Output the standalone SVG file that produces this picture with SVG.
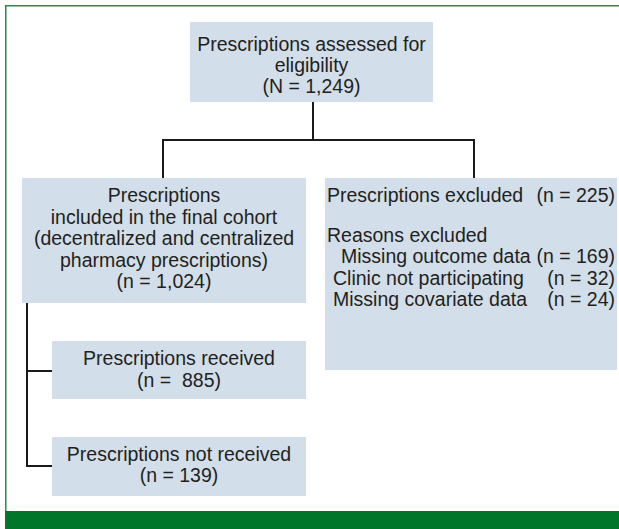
<svg xmlns="http://www.w3.org/2000/svg" width="619" height="529" viewBox="0 0 619 529">
<style>
.box{fill:#d2dee9;}
.t{font-family:"Liberation Sans",Arial,sans-serif;font-size:19.5px;fill:#231f20;}
.c{text-anchor:middle;}
.ln{stroke:#1a1a1a;stroke-width:2;fill:none;}
</style>
<rect x="0" y="0" width="619" height="529" fill="#ffffff"/>
<rect x="5.75" y="5.75" width="620" height="510" fill="none" stroke="#2f8a45" stroke-width="1.5"/>
<rect x="5" y="511" width="614" height="18" fill="#00762a"/>
<g id="connectors">
<path class="ln" d="M313 102 V140 M163 140 H474 M163 139 V178 M474 139 V178"/>
<path class="ln" d="M27 303 V466 M26 371 H52 M26 466 H52"/>
</g>
<g id="assessed">
<rect class="box" x="190" y="22" width="243" height="80"/>
<text class="t c" x="311.5" y="51">Prescriptions assessed for</text>
<text class="t c" x="311.5" y="72">eligibility</text>
<text class="t c" x="311.5" y="93">(N = 1,249)</text>
</g>
<g id="included">
<rect class="box" x="22" y="178" width="284" height="125"/>
<text class="t c" x="164" y="202">Prescriptions</text>
<text class="t c" x="164" y="223.5">included in the final cohort</text>
<text class="t c" x="164" y="245">(decentralized and centralized</text>
<text class="t c" x="164" y="266.5">pharmacy prescriptions)</text>
<text class="t c" x="164" y="288">(n = 1,024)</text>
</g>
<g id="excluded">
<rect class="box" x="325" y="178" width="292" height="192"/>
<text class="t" x="327" y="202">Prescriptions excluded <tspan x="615" text-anchor="end">(n = 225)</tspan></text>
<text class="t" x="327" y="242">Reasons excluded</text>
<text class="t" x="341" y="263">Missing outcome data <tspan x="615" text-anchor="end">(n = 169)</tspan></text>
<text class="t" x="333" y="285">Clinic not participating <tspan x="615" text-anchor="end">(n = 32)</tspan></text>
<text class="t" x="333" y="306">Missing covariate data <tspan x="615" text-anchor="end">(n = 24)</tspan></text>
</g>
<g id="received">
<rect class="box" x="52" y="341" width="254" height="58"/>
<text class="t c" x="179" y="365">Prescriptions received</text>
<text class="t c" x="179" y="387" xml:space="preserve">(n =  885)</text>
</g>
<g id="notreceived">
<rect class="box" x="52" y="437" width="254" height="59"/>
<text class="t c" x="179" y="461">Prescriptions not received</text>
<text class="t c" x="179" y="482">(n = 139)</text>
</g>
</svg>
